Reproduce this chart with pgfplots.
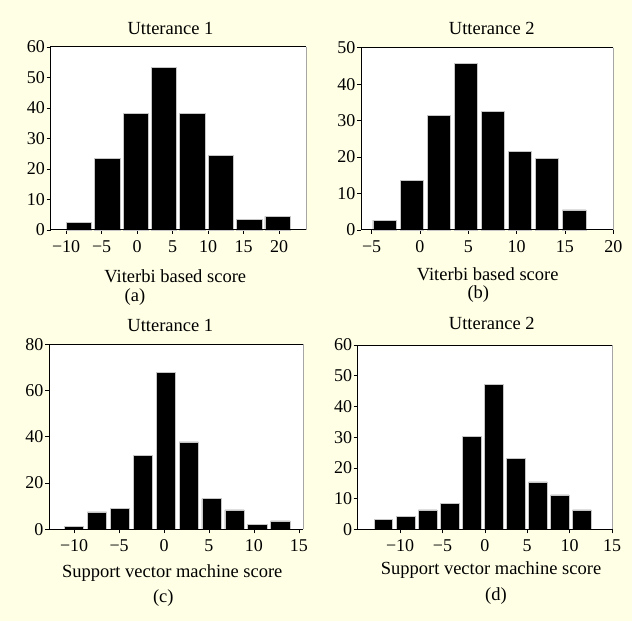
\documentclass[border=0pt]{standalone}
\usepackage{fontspec}
\setmainfont{Liberation Serif}
\usepackage{pgfplots}
\pgfplotsset{compat=1.18}
\definecolor{bgyellow}{RGB}{255,255,230}
\pgfplotsset{
  histo/.style={
    scale only axis,
    anchor=south west,
    ybar,
    ymin=0,
    axis line style={draw=none},
    tick align=outside,
    tick pos=left,
    major tick length=4pt,
    tick style={black, line width=0.6pt},
    tick label style={font=\fontsize{18}{21}\selectfont},
    yticklabel style={inner xsep=1.5pt},
    xticklabel style={yshift=-3pt},
    axis background/.style={fill=white},
    clip=false,
  },
  hbar/.style={fill=black, draw=gray!45, line width=0.7pt},
}
\newcommand{\frameaxis}{%
  \draw[black, line width=1pt] (rel axis cs:1,1) -- (rel axis cs:0,1) -- (rel axis cs:0,0) -- (rel axis cs:1,0);
  \draw[gray!70, line width=0.6pt] (rel axis cs:1,0) -- (rel axis cs:1,1);
}
\begin{document}
\begin{tikzpicture}[font=\fontsize{18.5}{22}\selectfont]
\useasboundingbox (0,0) rectangle (632pt,621pt);
\fill[bgyellow] (0,0) rectangle (632pt,621pt);

% (a)
\begin{axis}[histo, at={(50.5pt,391pt)}, width=255.5pt, height=183pt,
  xmin=-12.2, xmax=23.8, ymax=60, bar width=3.56,
  xtick={-10,-5,0,5,10,15,20}, xticklabels={−10,−5,0,5,10,15,20},
  ytick={0,10,20,30,40,50,60}, yticklabels={0,10,20,30,40,50,60}]
\addplot[hbar] coordinates {(-8.2,2.4) (-4.2,23.5) (-0.2,38.3) (3.8,53.3) (7.8,38.3) (11.8,24.5) (15.8,3.5) (19.8,4.5)};
\frameaxis
\end{axis}

% (b)
\begin{axis}[histo, at={(361pt,391pt)}, width=252.3pt, height=182.3pt,
  xmin=-6.1, xmax=20, ymax=50, bar width=2.42,
  xtick={-5,0,5,10,15,20}, xticklabels={−5,0,5,10,15,20},
  ytick={0,10,20,30,40,50}, yticklabels={0,10,20,30,40,50}]
\addplot[hbar] coordinates {(-3.65,2.7) (-0.85,13.7) (1.95,31.5) (4.75,45.6) (7.55,32.6) (10.35,21.6) (13.15,19.6) (15.95,5.5)};
\frameaxis
\end{axis}

% (c)
\begin{axis}[histo, at={(49pt,91.7pt)}, width=254.3pt, height=185pt,
  xmin=-12.8, xmax=15.5, ymax=80, bar width=2.15,
  xtick={-10,-5,0,5,10,15}, xticklabels={−10,−5,0,5,10,15},
  ytick={0,20,40,60,80}, yticklabels={0,20,40,60,80}]
\addplot[hbar] coordinates {(-10.0,1.3) (-7.45,7.5) (-4.9,9.2) (-2.35,32) (0.2,67.7) (2.75,37.8) (5.3,13.3) (7.85,8.4) (10.4,2.2) (12.95,3.6)};
\frameaxis
\end{axis}

% (d)
\begin{axis}[histo, at={(357.7pt,91.7pt)}, width=254.3pt, height=184.3pt,
  xmin=-15, xmax=15, ymax=60, bar width=2.19,
  xtick={-10,-5,0,5,10,15}, xticklabels={−10,−5,0,5,10,15},
  ytick={0,10,20,30,40,50,60}, yticklabels={0,10,20,30,40,50,60}]
\addplot[hbar] coordinates {(-11.95,3.25) (-9.35,4.2) (-6.75,6.3) (-4.15,8.35) (-1.55,30.2) (1.05,47.2) (3.65,23.1) (6.25,15.4) (8.85,11.2) (11.45,6.3)};
\frameaxis
\end{axis}

% titles and labels
\node at (170.5pt,593pt) {Utterance 1};
\node at (175.3pt,345pt) {Viterbi based score};
\node at (135pt,324pt) {(a)};
\node at (491.8pt,593pt) {Utterance 2};
\node at (487.7pt,347pt) {Viterbi based score};
\node at (478.3pt,326.5pt) {(b)};
\node at (170.3pt,296pt) {Utterance 1};
\node at (172.2pt,48pt) {Support vector machine score};
\node at (163.3pt,23pt) {(c)};
\node at (491.8pt,297.7pt) {Utterance 2};
\node at (491pt,51pt) {Support vector machine score};
\node at (496pt,25pt) {(d)};
\end{tikzpicture}
\end{document}
